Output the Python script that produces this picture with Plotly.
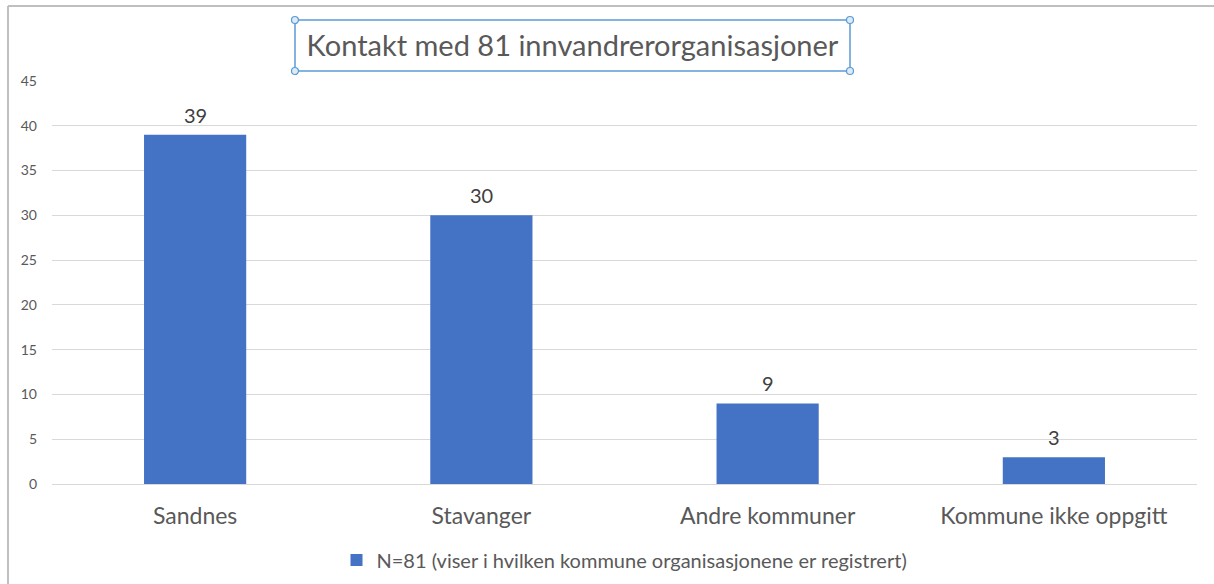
import plotly.graph_objects as go

categories = ["Sandnes", "Stavanger", "Andre kommuner", "Kommune ikke oppgitt"]
values = [39, 30, 9, 3]
series_name = "N=81 (viser i hvilken kommune organisasjonene er registrert)"
title_text = "Kontakt med 81 innvandrerorganisasjoner"
y_ticks = [0, 5, 10, 15, 20, 25, 30, 35, 40, 45]

W, H = 1214, 584
ML, MR, MT, MB = 52, 17, 81, 100
PW, PH = W - ML - MR, H - MT - MB

def px(x):
    return (x - ML) / PW

def py(y):
    return (H - MB - y) / PH

FONT = "Lato"
GRAY = "#595959"

fig = go.Figure()
fig.add_trace(go.Bar(
    x=categories, y=values, name=series_name,
    marker=dict(color="#4472C4", line=dict(width=0)),
    width=0.357,
    showlegend=True,
))

# data labels placed through the axes at each bar's value
for c, v in zip(categories, values):
    fig.add_annotation(x=c, y=v, xref="x", yref="y", text=str(v), showarrow=False,
                       yanchor="bottom", yshift=6,
                       font=dict(family=FONT, size=20, color="#404040"))

shapes = []
shapes.append(dict(type="line", xref="paper", yref="paper", x0=px(8), x1=px(8), y0=py(6), y1=py(590),
                   line=dict(color="#BFBFBF", width=2)))
shapes.append(dict(type="line", xref="paper", yref="paper", x0=px(8), x1=px(1220), y0=py(6), y1=py(6),
                   line=dict(color="#BFBFBF", width=2)))
bx0, bx1, by0, by1 = 295, 850, 20, 71
shapes.append(dict(type="rect", xref="paper", yref="paper", x0=px(bx0), x1=px(bx1), y0=py(by1), y1=py(by0),
                   line=dict(color="#5B9BD5", width=1.5), fillcolor="rgba(0,0,0,0)"))
r = 3.5
for cx, cy in [(bx0, by0), (bx1, by0), (bx0, by1), (bx1, by1)]:
    shapes.append(dict(type="circle", xref="paper", yref="paper",
                       x0=px(cx - r), x1=px(cx + r), y0=py(cy + r), y1=py(cy - r),
                       line=dict(color="#5B9BD5", width=1.2), fillcolor="#DDEBF7"))

fig.update_layout(
    width=W, height=H,
    margin=dict(l=ML, r=MR, t=MT, b=MB, autoexpand=False),
    paper_bgcolor="white", plot_bgcolor="white",
    title=dict(text=title_text, x=572.5 / W, xanchor="center", y=1 - 46 / H, yanchor="middle",
               xref="container", yref="container",
               font=dict(family=FONT, size=29, color=GRAY)),
    showlegend=True,
    legend=dict(orientation="h", x=0.5, xanchor="center", y=py(560), yanchor="middle",
                font=dict(family=FONT, size=20, color=GRAY), itemwidth=30,
                bgcolor="rgba(0,0,0,0)"),
    bargap=0.643,
    shapes=shapes,
    xaxis=dict(showgrid=False, showline=True, linecolor="#D9D9D9", linewidth=1,
               tickfont=dict(family=FONT, size=23, color=GRAY), ticks="", ticklabelstandoff=11,
               fixedrange=True),
    yaxis=dict(range=[0, 45], tickvals=y_ticks, showgrid=True, gridcolor="#D9D9D9", gridwidth=1,
               zeroline=False, showline=False, fixedrange=True,
               tickfont=dict(family=FONT, size=14, color=GRAY), ticks="", ticklabelstandoff=14),
)

fig.write_html("out.html", config={"displayModeBar": False},
               post_script="document.body.style.margin='0';document.body.style.overflow='hidden';")
